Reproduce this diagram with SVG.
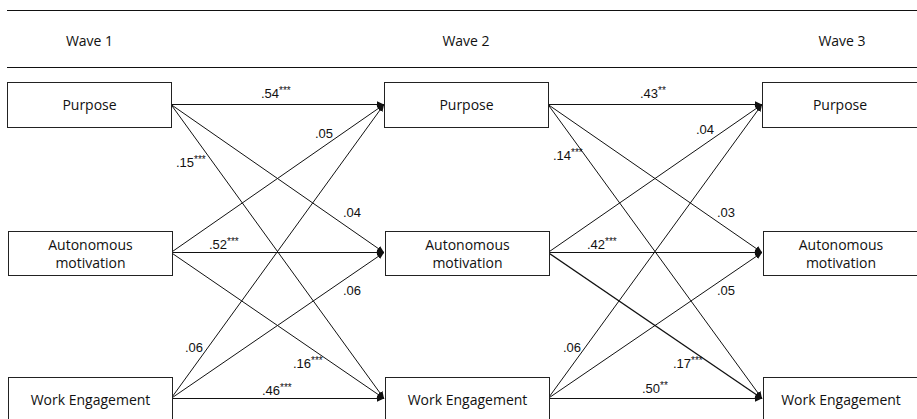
<svg xmlns="http://www.w3.org/2000/svg" width="917" height="419" viewBox="0 0 917 419">
<style>
.box{fill:#fff;stroke:#222;stroke-width:1}
.node{font-family:"Open Sans","DejaVu Sans",sans-serif;font-size:14px;fill:#111;text-anchor:middle}
.wave{font-family:"Open Sans","DejaVu Sans",sans-serif;font-size:14px;fill:#111;text-anchor:middle}
.lbl{font-family:"Liberation Sans",Arial,sans-serif;font-size:13px;fill:#111}
.sup{font-size:10px}
.edge{stroke:#111;stroke-width:1;fill:none;marker-end:url(#ah)}
.rule{stroke:#111;stroke-width:1}
</style>
<defs>
<marker id="ah" markerWidth="8" markerHeight="8" refX="7" refY="4" orient="auto" markerUnits="userSpaceOnUse">
<path d="M0,0.8 L7,4 L0,7.2 Z" fill="#111"/>
</marker>
</defs>
<rect width="917" height="419" fill="#fff"/>
<line class="rule" x1="7" y1="10.5" x2="917" y2="10.5"/>
<line class="rule" x1="7" y1="67.5" x2="917" y2="67.5"/>
<text class="wave" x="89.5" y="45.5">Wave 1</text>
<text class="wave" x="466" y="45.5">Wave 2</text>
<text class="wave" x="842" y="45.5">Wave 3</text>
<g id="connectors">
<line class="edge" x1="171" y1="104.5" x2="384" y2="104.5"/>
<line class="edge" x1="171" y1="104.5" x2="384" y2="252.5"/>
<line class="edge" x1="171" y1="104.5" x2="384" y2="398.5"/>
<line class="edge" x1="171" y1="252.5" x2="384" y2="104.5"/>
<line class="edge" x1="171" y1="252.5" x2="384" y2="252.5"/>
<line class="edge" x1="171" y1="252.5" x2="384" y2="398.5"/>
<line class="edge" x1="171" y1="398.5" x2="384" y2="104.5"/>
<line class="edge" x1="171" y1="398.5" x2="384" y2="252.5"/>
<line class="edge" x1="171" y1="398.5" x2="384" y2="398.5"/>
<line class="edge" x1="548" y1="104.5" x2="762" y2="104.5"/>
<line class="edge" x1="548" y1="104.5" x2="762" y2="252.5"/>
<line class="edge" x1="548" y1="104.5" x2="762" y2="398.5"/>
<line class="edge" x1="548" y1="252.5" x2="762" y2="104.5"/>
<line class="edge" x1="548" y1="252.5" x2="762" y2="252.5"/>
<line class="edge" x1="548" y1="252.5" x2="762" y2="398.5" style="stroke-width:1.3"/>
<line class="edge" x1="548" y1="398.5" x2="762" y2="104.5"/>
<line class="edge" x1="548" y1="398.5" x2="762" y2="252.5"/>
<line class="edge" x1="548" y1="398.5" x2="762" y2="398.5"/>
<text class="lbl" x="261" y="98">.54<tspan class="sup" dy="-4">***</tspan></text>
<text class="lbl" x="315" y="138">.05</text>
<text class="lbl" x="176" y="167">.15<tspan class="sup" dy="-4">***</tspan></text>
<text class="lbl" x="343" y="217">.04</text>
<text class="lbl" x="209" y="249">.52<tspan class="sup" dy="-4">***</tspan></text>
<text class="lbl" x="343" y="295">.06</text>
<text class="lbl" x="185" y="352">.06</text>
<text class="lbl" x="293" y="368">.16<tspan class="sup" dy="-4">***</tspan></text>
<text class="lbl" x="262" y="395">.46<tspan class="sup" dy="-4">***</tspan></text>
<text class="lbl" x="640" y="98">.43<tspan class="sup" dy="-4">**</tspan></text>
<text class="lbl" x="696" y="134">.04</text>
<text class="lbl" x="553" y="160">.14<tspan class="sup" dy="-4">***</tspan></text>
<text class="lbl" x="717" y="217">.03</text>
<text class="lbl" x="587" y="249">.42<tspan class="sup" dy="-4">***</tspan></text>
<text class="lbl" x="717" y="295">.05</text>
<text class="lbl" x="563" y="352">.06</text>
<text class="lbl" x="673" y="368">.17<tspan class="sup" dy="-4">***</tspan></text>
<text class="lbl" x="642" y="393">.50<tspan class="sup" dy="-4">**</tspan></text>
</g>
<g id="w1-purpose"><rect class="box" x="7.5" y="82.5" width="164" height="45"/><text class="node" x="89.5" y="110">Purpose</text></g>
<g id="w1-autonomous"><rect class="box" x="8.5" y="231.5" width="164" height="44"/><text class="node" x="90.5" y="250">Autonomous</text><text class="node" x="90.5" y="268">motivation</text></g>
<g id="w1-engagement"><rect class="box" x="8.5" y="377.5" width="164" height="45"/><text class="node" x="90.5" y="405">Work Engagement</text></g>
<g id="w2-purpose"><rect class="box" x="384.5" y="82.5" width="164" height="45"/><text class="node" x="466.5" y="110">Purpose</text></g>
<g id="w2-autonomous"><rect class="box" x="385.5" y="231.5" width="164" height="44"/><text class="node" x="467.5" y="250">Autonomous</text><text class="node" x="467.5" y="268">motivation</text></g>
<g id="w2-engagement"><rect class="box" x="385.5" y="377.5" width="164" height="45"/><text class="node" x="467.5" y="405">Work Engagement</text></g>
<g id="w3-purpose"><rect class="box" x="762.5" y="82.5" width="164" height="45"/><text class="node" x="840" y="110">Purpose</text></g>
<g id="w3-autonomous"><rect class="box" x="763.5" y="231.5" width="164" height="44"/><text class="node" x="841" y="250">Autonomous</text><text class="node" x="841" y="268">motivation</text></g>
<g id="w3-engagement"><rect class="box" x="763.5" y="377.5" width="164" height="45"/><text class="node" x="841" y="405">Work Engagement</text></g>
</svg>
